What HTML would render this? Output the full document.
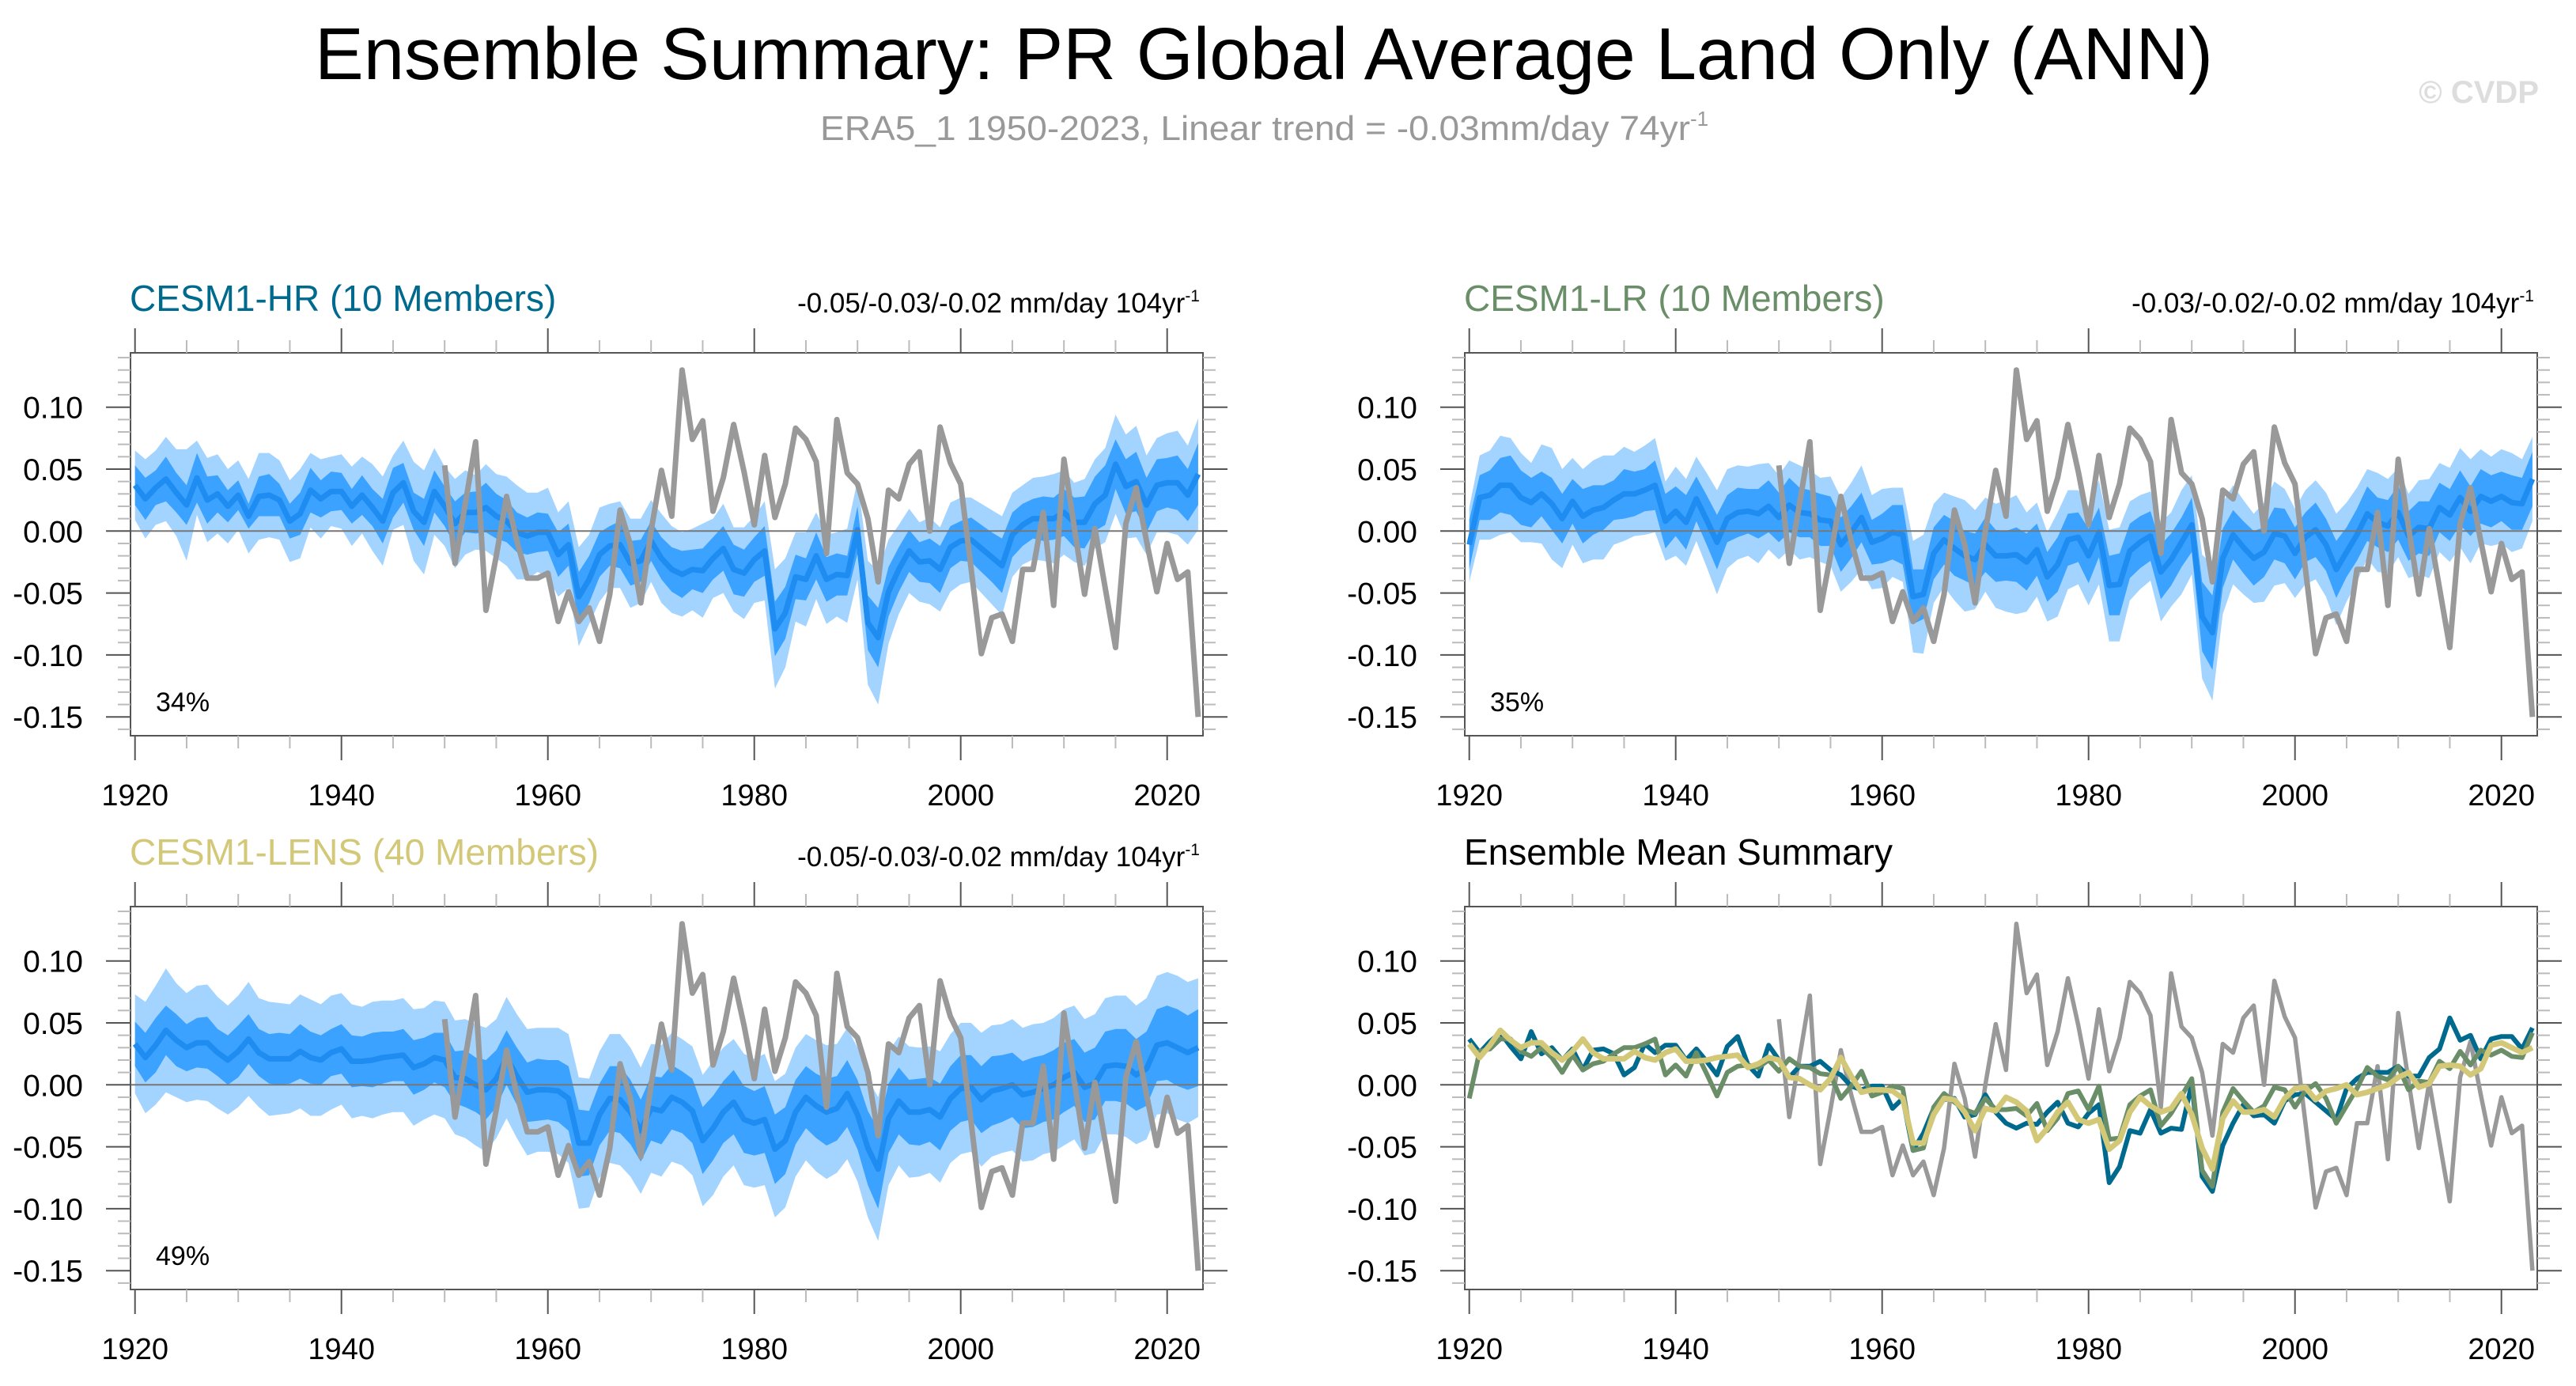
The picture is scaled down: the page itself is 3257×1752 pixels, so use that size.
<!DOCTYPE html>
<html><head><meta charset="utf-8"><style>
html,body{margin:0;padding:0;background:#fff;}
svg{display:block;font-family:"Liberation Sans",Arial,sans-serif;}
</style></head>
<body>
<svg id="chart" width="3257" height="1752" viewBox="0 0 3257 1752" xmlns="http://www.w3.org/2000/svg">
<rect width="3257" height="1752" fill="#fff"/>
<text x="1598" y="100" font-size="93" text-anchor="middle" textLength="2400" lengthAdjust="spacingAndGlyphs" fill="#000">Ensemble Summary: PR Global Average Land Only (ANN)</text>
<text x="1037" y="177" font-size="44" fill="#999"><tspan textLength="1100" lengthAdjust="spacingAndGlyphs">ERA5_1 1950-2023, Linear trend = -0.03mm/day 74yr</tspan><tspan dy="-18" font-size="26">-1</tspan></text>
<text x="3210" y="130" font-size="40" font-weight="bold" text-anchor="end" fill="#ddd">© CVDP</text>
<g id="panels"></g>
</svg>
<script>
const years = [];
for (let y = 1920; y <= 2023; y++) years.push(y);
const eraYears = [];
for (let y = 1950; y <= 2023; y++) eraYears.push(y);

const era5 = [.053,-.026,.022,.072,-.064,-.020,.028,-.008,-.038,-.038,
-.034,-.073,-.049,-.073,-.062,-.089,-.051,.017,-.011,-.058,
.000,.049,.012,.130,.074,.089,.016,.043,.086,.048,
.005,.061,.011,.038,.083,.074,.056,-.018,.090,.047,
.038,.010,-.041,.033,.026,.054,.064,.000,.084,.055,
.038,-.030,-.099,-.070,-.067,-.089,-.031,-.031,.015,-.060,
.058,.003,-.051,.002,-.046,-.094,.006,.035,-.008,-.049,
-.010,-.039,-.033,-.150];

const hrMean = [.037,.026,.035,.042,.031,.021,.043,.025,.030,.020,
.029,.012,.028,.029,.025,.008,.014,.033,.026,.032,
.032,.020,.029,.019,.008,.031,.039,.016,.007,.032,
.020,.006,.015,.015,.019,.012,.008,-.001,-.004,-.001,
-.001,-.019,-.011,-.053,-.039,-.019,-.012,-.011,-.026,-.024,
-.008,-.022,-.031,-.035,-.031,-.032,-.022,-.014,-.031,-.034,
-.023,-.016,-.079,-.066,-.037,-.039,-.020,-.039,-.035,-.036,
.001,-.074,-.086,-.049,-.031,-.016,-.025,-.024,-.031,-.013,
-.008,-.007,-.014,-.021,-.028,-.003,.005,.010,.010,.010,
.015,.007,.007,.022,.029,.054,.036,.040,.021,.037,
.039,.039,.029,.046];

const lrMean = [-.011,.027,.029,.037,.037,.027,.023,.030,.022,.010,
.024,.012,.017,.019,.025,.030,.030,.033,.037,.008,
.016,.007,.026,.009,-.009,.010,.015,.016,.014,.020,
.011,.021,.015,.014,.009,.008,-.011,-.001,.011,-.009,
-.006,-.001,-.003,-.053,-.051,-.018,-.007,-.014,-.020,-.023,
-.011,-.020,-.020,-.019,-.025,-.015,-.037,-.027,-.007,-.005,
-.020,-.001,-.044,-.043,-.016,-.009,-.004,-.033,-.023,-.009,
.005,-.069,-.082,-.022,-.003,-.013,-.022,-.017,-.002,-.004,
-.018,-.005,.001,-.011,-.031,-.017,-.003,.014,.007,.004,
.015,-.004,.003,.002,.019,.013,.027,.016,.028,.024,
.028,.023,.022,.042];

const lensMean = [.033,.022,.032,.044,.036,.030,.034,.034,.026,.020,
.027,.037,.026,.021,.021,.021,.027,.022,.020,.026,
.029,.019,.019,.020,.022,.023,.024,.014,.017,.022,
.020,.006,.005,.000,-.004,.005,.022,.007,-.006,-.004,
-.004,-.005,-.011,-.047,-.047,-.024,-.011,-.012,-.022,-.037,
-.019,-.021,-.010,-.014,-.021,-.045,-.035,-.022,-.014,-.028,
-.031,-.028,-.052,-.045,-.022,-.010,-.017,-.022,-.019,-.007,
-.024,-.051,-.068,-.027,-.013,-.022,-.022,-.020,-.026,-.011,
-.003,-.002,-.012,-.005,-.003,.000,-.008,-.006,-.003,.000,
.006,.010,-.002,.001,.015,.016,.015,.008,.013,.032,
.034,.030,.026,.030];

const hrInner = [.016,.017,.014,.018,.016,.016,.020,.019,.015,.013,
.012,.010,.016,.017,.013,.014,.017,.018,.015,.016,
.015,.014,.016,.015,.018,.020,.016,.015,.019,.017,
.016,.018,.016,.017,.020,.018,.017,.016,.015,.016,
.015,.018,.017,.020,.019,.018,.016,.019,.018,.017,
.016,.017,.018,.019,.016,.018,.017,.018,.020,.019,
.018,.020,.022,.021,.018,.017,.019,.018,.017,.016,
.019,.022,.024,.020,.018,.017,.016,.018,.019,.017,
.016,.018,.019,.020,.022,.018,.017,.016,.018,.017,
.019,.020,.021,.022,.024,.020,.022,.024,.022,.021,
.020,.022,.021,.025];
const hrOuter = [.028,.032,.030,.034,.035,.045,.030,.034,.032,.030,
.028,.030,.035,.034,.032,.033,.036,.030,.032,.028,
.030,.032,.031,.035,.036,.030,.034,.040,.042,.035,
.032,.036,.034,.030,.035,.034,.036,.038,.035,.032,
.036,.034,.035,.040,.036,.038,.034,.035,.036,.034,
.033,.036,.035,.034,.033,.038,.032,.036,.034,.037,
.035,.040,.048,.044,.036,.038,.035,.036,.034,.038,
.040,.050,.054,.042,.036,.034,.032,.035,.034,.036,
.035,.034,.036,.038,.040,.034,.032,.033,.034,.036,
.034,.032,.035,.036,.038,.040,.042,.045,.040,.038,
.040,.042,.040,.045];
const lrInner = [.020,.018,.020,.022,.024,.022,.020,.018,.021,.020,
.018,.022,.020,.018,.016,.020,.018,.017,.020,.022,
.020,.022,.018,.020,.022,.019,.020,.018,.020,.021,
.020,.022,.020,.019,.021,.020,.022,.021,.020,.018,
.020,.022,.024,.022,.020,.021,.020,.022,.020,.021,
.022,.021,.020,.022,.023,.021,.020,.022,.021,.020,
.022,.020,.024,.025,.022,.021,.020,.022,.021,.020,
.022,.028,.030,.024,.020,.021,.022,.020,.021,.022,
.021,.020,.022,.021,.023,.020,.021,.022,.020,.021,
.022,.020,.021,.022,.020,.021,.022,.020,.022,.021,
.020,.022,.021,.022];
const lrOuter = [.030,.034,.036,.040,.038,.036,.032,.040,.045,.040,
.035,.038,.040,.042,.036,.038,.034,.036,.038,.032,
.036,.035,.034,.038,.042,.040,.038,.036,.040,.035,
.034,.036,.038,.035,.034,.036,.038,.040,.042,.038,
.040,.036,.038,.045,.048,.040,.038,.042,.045,.040,
.038,.042,.045,.048,.040,.038,.036,.042,.040,.038,
.040,.042,.045,.046,.040,.038,.036,.040,.038,.042,
.040,.050,.055,.045,.040,.038,.036,.040,.042,.038,
.036,.038,.040,.042,.045,.040,.038,.036,.040,.038,
.036,.034,.038,.040,.036,.038,.040,.042,.038,.036,
.038,.040,.036,.034];
const lensInner = [.018,.020,.022,.020,.021,.019,.020,.021,.019,.020,
.021,.020,.019,.020,.021,.020,.022,.021,.020,.019,
.020,.021,.020,.022,.021,.020,.021,.022,.021,.020,
.022,.021,.023,.022,.024,.023,.022,.023,.024,.025,
.024,.025,.026,.027,.026,.025,.026,.027,.026,.025,
.026,.027,.026,.025,.026,.027,.026,.025,.026,.027,
.026,.027,.028,.027,.026,.025,.026,.027,.026,.027,
.028,.030,.032,.028,.027,.026,.027,.026,.027,.026,
.027,.026,.027,.028,.027,.026,.027,.028,.027,.028,
.028,.027,.028,.029,.028,.029,.030,.029,.030,.029,
.030,.031,.030,.031];
const lensOuter = [.040,.045,.048,.050,.046,.044,.046,.047,.045,.044,
.045,.046,.044,.046,.045,.044,.046,.047,.045,.046,
.045,.046,.044,.047,.046,.045,.046,.047,.045,.046,
.047,.046,.048,.049,.050,.048,.049,.050,.051,.050,
.050,.051,.052,.053,.052,.051,.052,.053,.052,.051,
.052,.053,.052,.051,.052,.053,.054,.052,.051,.053,
.052,.053,.055,.054,.052,.051,.053,.054,.052,.053,
.054,.056,.058,.054,.052,.053,.052,.051,.053,.052,
.053,.052,.054,.053,.052,.053,.054,.055,.053,.054,
.055,.054,.055,.056,.055,.056,.057,.056,.057,.056,
.057,.058,.057,.056];

const yTicks = [0.10, 0.05, 0.00, -0.05, -0.10, -0.15];
const yTickLabels = ["0.10","0.05","0.00","-0.05","-0.10","-0.15"];
const xTicks = [1920, 1940, 1960, 1980, 2000, 2020];
const xTickLabels = ["1920","1940","1960","1980","2000","2020"];

const NS = "http://www.w3.org/2000/svg";
const root = document.getElementById('panels');
const PW = 1356, PH = 484;

function mk(tag, attrs, parent) {
  const e = document.createElementNS(NS, tag);
  for (const k in attrs) e.setAttribute(k, attrs[k]);
  parent.appendChild(e);
  return e;
}

function panel(x0, y0) {
  return {
    X: yr => x0 + 5.7 + (yr - 1920) * 13.05,
    Y: v => y0 + 225.3 - v * 1566
  };
}

function linePath(s, xs, vals) {
  return vals.map((v, i) => (i ? 'L' : 'M') + s.X(xs[i]).toFixed(1) + ',' + s.Y(v).toFixed(1)).join('');
}
function bandPath(s, mean, hw) {
  let d = '';
  for (let i = 0; i < mean.length; i++) d += (i ? 'L' : 'M') + s.X(years[i]).toFixed(1) + ',' + s.Y(mean[i] + hw[i]).toFixed(1);
  for (let i = mean.length - 1; i >= 0; i--) d += 'L' + s.X(years[i]).toFixed(1) + ',' + s.Y(mean[i] - hw[i]).toFixed(1);
  return d + 'Z';
}

function drawAxes(g, s, x0, y0) {
  const ax = mk('g', {}, g);
  
  
  for (let k = -16; k <= 14; k++) {
    const v = k / 100;
    const major = (k % 5 === 0);
    const y = s.Y(v);
    const len = major ? 31 : 16;
    const col = major ? '#555' : '#bbb';
    mk('line', {x1: x0 - len, y1: y, x2: x0, y2: y, stroke: col, 'stroke-width': 2}, ax);
    mk('line', {x1: x0 + PW, y1: y, x2: x0 + PW + len, y2: y, stroke: col, 'stroke-width': 2}, ax);
  }
  for (let yr = 1920; yr <= 2020; yr += 5) {
    const major = (yr % 20 === 0);
    const x = s.X(yr);
    const len = major ? 31 : 16;
    const col = major ? '#555' : '#bbb';
    mk('line', {x1: x, y1: y0 - len, x2: x, y2: y0, stroke: col, 'stroke-width': 2}, ax);
    mk('line', {x1: x, y1: y0 + PH, x2: x, y2: y0 + PH + len, stroke: col, 'stroke-width': 2}, ax);
  }
  yTicks.forEach((v, i) => {
    const t = mk('text', {x: x0 - 60, y: s.Y(v) + 14, 'font-size': 39, 'text-anchor': 'end', fill: '#000'}, ax);
    
    
    t.textContent = yTickLabels[i];
  });
  xTicks.forEach((yr, i) => {
    const t = mk('text', {x: s.X(yr), y: y0 + PH + 88, 'font-size': 38, 'text-anchor': 'middle', fill: '#000'}, ax);
    
    
    t.textContent = xTickLabels[i];
  });
}

function header(g, x0, y0, title, color, trend) {
  const t = mk('text', {x: x0 - 1, y: y0 - 53, 'font-size': 46, fill: color}, g);
  
  
  t.textContent = title;
  if (trend) {
    const r = mk('text', {x: x0 + PW - 4, y: y0 - 51, 'font-size': 35, 'text-anchor': 'end', fill: '#000'}, g);
    
    
    const a = mk('tspan', {}, r); a.textContent = trend;
    const b = mk('tspan', {dy: -14, 'font-size': 21}, r); b.textContent = '-1';
  }
}

function clipBox(g, x0, y0, id) {
  const cp = mk('clipPath', {id: id}, g);
  mk('rect', {x: x0, y: y0, width: PW, height: PH}, cp);
}

function bandPanel(x0, y0, name, title, color, mean, inner, outer, pct) {
  const s = panel(x0, y0);
  const g = mk('g', {}, root);
  
  
  header(g, x0, y0, title, color, name === 'panel-cesm1-lr' ? '-0.03/-0.02/-0.02 mm/day 104yr' : '-0.05/-0.03/-0.02 mm/day 104yr');
  clipBox(g, x0, y0, name + '-clip');
  const pg = mk('g', {'clip-path': 'url(#' + name + '-clip)'}, g);
  const ob = mk('path', {d: bandPath(s, mean, outer), fill: '#a3d3ff'}, pg);
  
  
  const ib = mk('path', {d: bandPath(s, mean, inner), fill: '#3ca2ff'}, pg);
  
  
  const ml = mk('path', {d: linePath(s, years, mean), fill: 'none', stroke: '#1e8cf0', 'stroke-width': 7, 'stroke-linejoin': 'round'}, pg);
  
  
  mk('line', {x1: x0, y1: s.Y(0), x2: x0 + PW, y2: s.Y(0), stroke: '#777', 'stroke-width': 2}, pg);
  const el = mk('path', {d: linePath(s, eraYears, era5), fill: 'none', stroke: '#999', 'stroke-width': 7, 'stroke-linejoin': 'round'}, pg);
  
  
  const p = mk('text', {x: x0 + 32, y: y0 + 453, 'font-size': 34, fill: '#000'}, g);
  
  
  p.textContent = pct;
  mk('rect', {x: x0, y: y0, width: PW, height: PH, fill: 'none', stroke: '#555', 'stroke-width': 2}, g);
  drawAxes(g, s, x0, y0);
}

bandPanel(165, 446, 'panel-cesm1-hr', 'CESM1-HR (10 Members)', '#006a8e', hrMean, hrInner, hrOuter, '34%');
bandPanel(1852, 446, 'panel-cesm1-lr', 'CESM1-LR (10 Members)', '#6a8e68', lrMean, lrInner, lrOuter, '35%');
bandPanel(165, 1146, 'panel-cesm1-lens', 'CESM1-LENS (40 Members)', '#d2c878', lensMean, lensInner, lensOuter, '49%');

(function () {
  const x0 = 1852, y0 = 1146;
  const s = panel(x0, y0);
  const g = mk('g', {}, root);
  
  
  header(g, x0, y0, 'Ensemble Mean Summary', '#000', null);
  clipBox(g, x0, y0, 'summary-clip');
  const pg = mk('g', {'clip-path': 'url(#summary-clip)'}, g);
  mk('line', {x1: x0, y1: s.Y(0), x2: x0 + PW, y2: s.Y(0), stroke: '#777', 'stroke-width': 2}, pg);
  const e = mk('path', {d: linePath(s, eraYears, era5), fill: 'none', stroke: '#999', 'stroke-width': 5.5, 'stroke-linejoin': 'round'}, pg);
  
  
  const h = mk('path', {d: linePath(s, years, hrMean), fill: 'none', stroke: '#006a8e', 'stroke-width': 6, 'stroke-linejoin': 'round'}, pg);
  
  
  const l = mk('path', {d: linePath(s, years, lrMean), fill: 'none', stroke: '#6a8e68', 'stroke-width': 6, 'stroke-linejoin': 'round'}, pg);
  
  
  const n = mk('path', {d: linePath(s, years, lensMean), fill: 'none', stroke: '#d2c878', 'stroke-width': 7, 'stroke-linejoin': 'round'}, pg);
  
  
  mk('rect', {x: x0, y: y0, width: PW, height: PH, fill: 'none', stroke: '#555', 'stroke-width': 2}, g);
  drawAxes(g, s, x0, y0);
})();
</script>
</body></html>
